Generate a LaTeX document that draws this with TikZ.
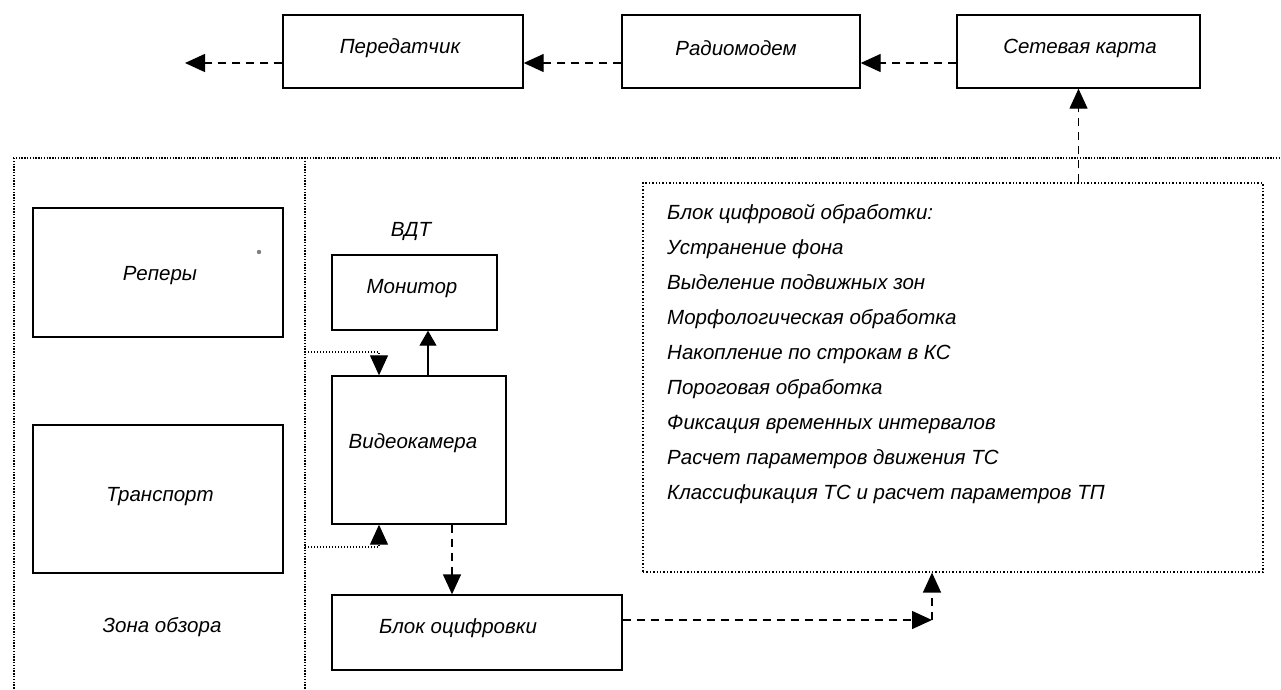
\documentclass[tikz,border=0pt]{standalone}
\usepackage{fontspec}
\setmainfont{Liberation Sans}
\usetikzlibrary{arrows.meta}
\tikzset{
  box/.style={draw, line width=1.4pt, inner sep=0pt},
  dotbox/.style={draw, line width=1.2pt, dash pattern=on 1.4pt off 2pt, inner sep=0pt},
  txt/.style={inner sep=0pt, font=\fontsize{20.5}{24}\selectfont\itshape},
  frameline/.style={line width=1.3pt, dash pattern=on 1.4pt off 1.4pt},
  dashline/.style={line width=1.4pt, dash pattern=on 8pt off 6pt},
  dotline/.style={line width=1.2pt, dash pattern=on 1.4pt off 1.6pt},
  tip/.style={-{Triangle[length=20pt,width=18pt]}},
  smalltip/.style={-{Triangle[length=15pt,width=17pt]}}
}
\begin{document}
\begin{tikzpicture}[x=1pt,y=-1pt]
\useasboundingbox[fill=white] (0,0) rectangle (1281,689);

% outer frame
\draw[frameline, line width=2pt] (14,158) -- (14,689);
\draw[frameline] (13,158) -- (1281,158);
\draw[frameline] (305,158) -- (305,689);

% top row
\node[box, minimum width=240pt, minimum height=73pt] (per) at (403,51.5) {};
\node[txt] (pert) at (400,48) {Передатчик};
\node[box, minimum width=238pt, minimum height=73pt] (rad) at (741,51.5) {};
\node[txt] (radt) at (736,48) {Радиомодем};
\node[box, minimum width=243pt, minimum height=73pt] (net) at (1078.5,51.5) {};
\node[txt] (nett) at (1080,48) {Сетевая карта};

% left zone
\node[box, minimum width=250pt, minimum height=129pt] (rep) at (158,272.5) {};
\node[txt] (rept) at (160,276) {Реперы};
\node[box, minimum width=250pt, minimum height=148pt] (tra) at (158,499) {};
\node[txt] (trat) at (160,497) {Транспорт};
\node[txt] (zona) at (162,627) {Зона обзора};
\fill[gray] (259,252) circle (2.2pt);

% VDT
\node[txt] (vdt) at (411,231) {ВДТ};
\node[box, minimum width=165pt, minimum height=75pt] (mon) at (414.5,292.5) {};
\node[txt] (mont) at (412,289) {Монитор};
\node[box, minimum width=174pt, minimum height=148pt] (cam) at (419,450) {};
\node[txt] (camt) at (413,443) {Видеокамера};
\node[box, minimum width=290pt, minimum height=75pt] (dig) at (477,632.5) {};
\node[txt] (digt) at (458,628) {Блок оцифровки};

% processing block
\node[dotbox, minimum width=620pt, minimum height=389pt] (proc) at (953,377.5) {};
\foreach \t [count=\i from 0] in {Блок цифровой обработки:, Устранение фона, Выделение подвижных зон, Морфологическая обработка, Накопление по строкам в КС, Пороговая обработка, Фиксация временных интервалов, Расчет параметров движения ТС, Классификация ТС и расчет параметров ТП}
  \node[txt, anchor=base west] (p\i) at (667,{219+35*\i}) {\t};

% helper coordinates
\coordinate (ya) at (0,63);
\coordinate (out) at (185,63);
\coordinate (xm) at (428,0);
\coordinate (xin) at (379,0);
\coordinate (in1) at (305,352);
\coordinate (in2) at (305,547);
\coordinate (xd) at (452,0);
\coordinate (corner) at (932,620);

% connectors
\draw[dashline, tip] (net.west |- ya) -- (rad.east |- ya);
\draw[dashline, tip] (rad.west |- ya) -- (per.east |- ya);
\draw[dashline, tip] (per.west |- ya) -- (out);
\draw[dashline, tip] (proc.north -| net.south) -- (net.south);
\draw[line width=1.2pt, smalltip] (cam.north -| xm) -- (mon.south -| xm);
\draw[dotline, tip] (in1) -| (cam.north -| xin);
\draw[dotline, tip] (in2) -| (cam.south -| xin);
\draw[dashline, tip] (cam.south -| xd) -- (dig.north -| xd);
\draw[dashline, tip] (dig.east |- corner) -- (corner);
\draw[dashline, tip] (corner) -- (proc.south -| corner);
\end{tikzpicture}
\end{document}
